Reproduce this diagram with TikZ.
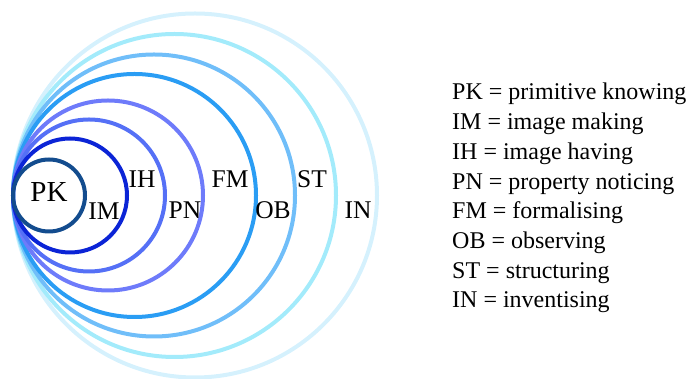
\documentclass[tikz,border=0pt]{standalone}
\usepackage{fontspec}
\setmainfont{Liberation Serif}
\usetikzlibrary{positioning}

\definecolor{ringPK}{HTML}{134C8E}
\definecolor{ringIM}{HTML}{0B24D6}
\definecolor{ringIH}{HTML}{5570F6}
\definecolor{ringPN}{HTML}{6E7BFA}
\definecolor{ringFM}{HTML}{2A9DF4}
\definecolor{ringOB}{HTML}{70BEF9}
\definecolor{ringST}{HTML}{A3EBFB}
\definecolor{ringIN}{HTML}{D5F1FD}

\begin{document}
\begin{tikzpicture}[x=1pt, y=1pt,
  ring/.style={line width=4pt},
  stage/.style={inner sep=0pt, font=\fontsize{25.5}{25.5}\selectfont},
  key/.style={inner sep=0pt, anchor=base west, font=\fontsize{24}{24}\selectfont}]
\useasboundingbox (0,0) rectangle (690,379);

% nested rings, all touching at the left
\foreach \c/\r in {IN/182, ST/161.5, OB/141, FM/121.5, PN/95, IH/76, IM/57, PK/36}
  \draw [ring, draw=ring\c] (13+\r,183.5) circle (\r);

\node [stage, font=\fontsize{29}{29}\selectfont] (stage-PK) at (49,187) {PK};

\foreach \t/\x/\y in {IM/104/168, PN/185/169, OB/273/169, IN/358/169,
                      IH/142/200, FM/230/200, ST/312/200}
  \node [stage] (stage-\t) at (\x,\y) {\t};

% legend
\foreach \t/\d [count=\i] in {PK/primitive knowing, IM/image making,
    IH/image having, PN/property noticing, FM/formalising,
    OB/observing, ST/structuring, IN/inventising}
  \node [key] (key-\t) at (452,279-\i*29.7+29.7) {\t{} = \d};
\end{tikzpicture}
\end{document}
